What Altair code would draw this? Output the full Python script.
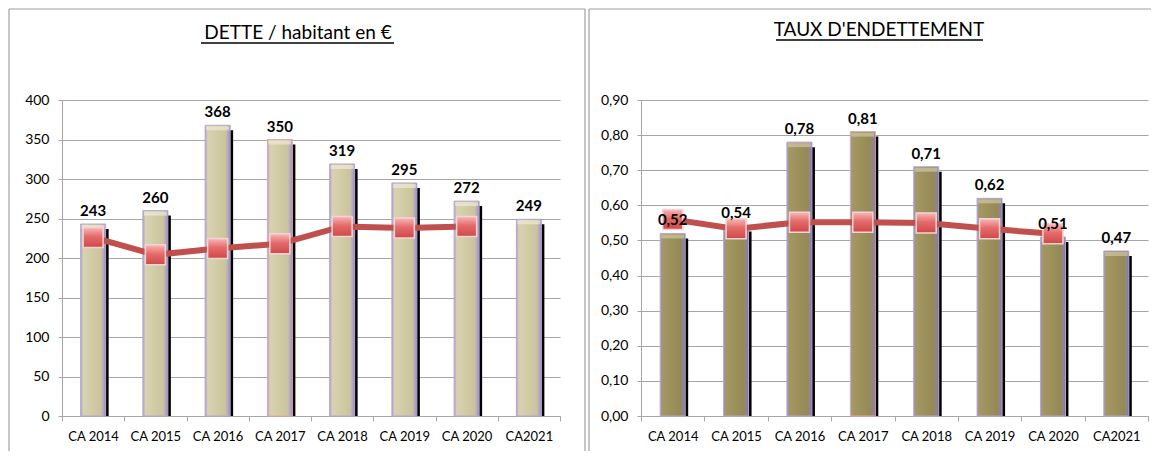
import altair as alt
import pandas as pd

categories = ["CA 2014", "CA 2015", "CA 2016", "CA 2017", "CA 2018", "CA 2019", "CA 2020", "CA2021"]
dette_bars = [243, 260, 368, 350, 319, 295, 272, 249]
dette_line = [226, 204, 212, 218, 240, 238, 240, None]
taux_bars = [0.52, 0.54, 0.78, 0.81, 0.71, 0.62, 0.51, 0.47]
taux_line = [0.56, 0.533, 0.552, 0.552, 0.55, 0.533, 0.519, None]
dette_ticks = [0, 50, 100, 150, 200, 250, 300, 350, 400]
taux_ticks = [0.0, 0.1, 0.2, 0.3, 0.4, 0.5, 0.6, 0.7, 0.8, 0.9]

FONT = "Lato"
GRID = "#A6A6A6"
W_L, W_R, H = 498, 507, 316


def grad_h(stops):
    return alt.Gradient(gradient="linear", x1=0, x2=1, y1=0, y2=0,
                        stops=[alt.GradientStop(color=c, offset=o) for o, c in stops])


marker_fill = alt.Gradient(gradient="linear", x1=0, x2=0, y1=0, y2=1,
                           stops=[alt.GradientStop(color="#F8B8B8", offset=0),
                                  alt.GradientStop(color="#E56B6B", offset=0.45),
                                  alt.GradientStop(color="#D04848", offset=1)])


def panel(bars, line, ticks, ymax, decimals, title, width, bar_grad, cap_color,
          tx, ty, ul, border):
    df = pd.DataFrame({"cat": categories, "v": bars, "l": line})
    if decimals:
        lab_expr = "replace(format(datum.value, '.2f'), '.', ',')"
        df["txt"] = [f"{b:.2f}".replace(".", ",") for b in bars]
    else:
        lab_expr = "format(datum.value, 'd')"
        df["txt"] = [str(b) for b in bars]

    x = alt.X("cat:N", sort=categories,
              scale=alt.Scale(paddingInner=0, paddingOuter=0),
              axis=alt.Axis(title=None, labelAngle=0, tickBand="extent", tickSize=5,
                            labelPadding=9, labelFont=FONT, labelFontSize=13,
                            labelColor="#000000", domainColor=GRID, tickColor=GRID,
                            grid=False))
    yaxis = alt.Axis(title=None, values=ticks, labelExpr=lab_expr, tickSize=4,
                     labelPadding=9, labelFont=FONT, labelFontSize=14,
                     labelColor="#000000", domainColor=GRID, tickColor=GRID,
                     grid=True, gridColor=GRID, gridWidth=1)
    yscale = alt.Scale(domain=[0, ymax], nice=False, zero=True)

    base = alt.Chart(df)
    shadow = base.mark_bar(size=25, color="#000000", xOffset=3, yOffset=5,
                           y2Offset=0).encode(
        x=x, y=alt.Y("v:Q", scale=yscale, axis=yaxis), y2=alt.datum(0))
    bar = base.mark_bar(size=25, color=bar_grad, strokeWidth=1).encode(
        x=x, y=alt.Y("v:Q", scale=yscale, axis=yaxis),
        stroke=alt.condition("datum.cat == 'CA 2017'", alt.value("#E2AAAA"),
                             alt.value("#B5A8D4")))
    cap = base.mark_tick(size=23, thickness=4, color=cap_color, yOffset=3).encode(
        x=x, y=alt.Y("v:Q", scale=yscale, axis=yaxis))
    ln = base.transform_filter("isValid(datum.l)").mark_line(
        color="#C0504D", strokeWidth=6).encode(
        x=x, y=alt.Y("l:Q", scale=yscale, axis=yaxis))
    pts = base.transform_filter("isValid(datum.l)").mark_square(
        size=400, fill=marker_fill, stroke="#F3D3D3", strokeWidth=1.5,
        fillOpacity=1, opacity=1).encode(
        x=x, y=alt.Y("l:Q", scale=yscale, axis=yaxis))
    lbl = base.mark_text(fontWeight="bold", fontSize=15, font=FONT, baseline="bottom",
                         dy=-5, color="#000000").encode(
        x=x, y=alt.Y("v:Q", scale=yscale, axis=yaxis), text="txt:N")

    tdf = pd.DataFrame({"t": [title]})
    ttl = alt.Chart(tdf).mark_text(font=FONT, fontSize=19, align="center",
                                   baseline="alphabetic", color="#000000").encode(
        x=alt.value(tx), y=alt.value(ty), text="t:N")
    und = alt.Chart(tdf).mark_rule(color="#000000", strokeWidth=1.3).encode(
        x=alt.value(ul[0]), x2=alt.value(ul[1]), y=alt.value(ul[2]), y2=alt.value(ul[2]))

    borders = []
    for (x1, x2, y1, y2) in border:
        borders.append(alt.Chart(tdf).mark_rule(color="#A0A0A0", strokeWidth=1.2).encode(
            x=alt.value(x1), x2=alt.value(x2), y=alt.value(y1), y2=alt.value(y2)))

    return alt.layer(shadow, bar, cap, ln, pts, lbl, ttl, und, *borders).properties(
        width=width, height=H)


left = panel(
    dette_bars, dette_line, dette_ticks, 400, False, "DETTE / habitant en €", W_L,
    grad_h([(0, "#A99BC6"), (0.1, "#D8D2B2"), (0.5, "#D1CBA4"), (0.82, "#CAC39F"),
            (0.92, "#B3A6C6"), (1, "#988AB2")]),
    "#EEEBD6",
    236, -61, (139, 332, -57),
    [(-53, -53, -91, 351), (-53, 523, -91, -91), (523, 523, -91, 351)],
)
right = panel(
    taux_bars, taux_line, taux_ticks, 0.9, True, "TAUX D'ENDETTEMENT", W_R,
    grad_h([(0, "#A093BC"), (0.1, "#A39862"), (0.5, "#9B8F5A"), (0.82, "#958A56"),
            (0.92, "#8E84A0"), (1, "#7F7594")]),
    "#CEC7A6",
    238, -64, (135, 342, -60),
    [(-52, -52, -91, 351), (-52, 510, -91, -91)],
)

chart = alt.hconcat(left, right, spacing=81, bounds="flush").properties(
    padding=0, background="#FFFFFF"
).configure_view(stroke=None)

chart.save("out.html", embed_options={"renderer": "svg", "actions": False})
